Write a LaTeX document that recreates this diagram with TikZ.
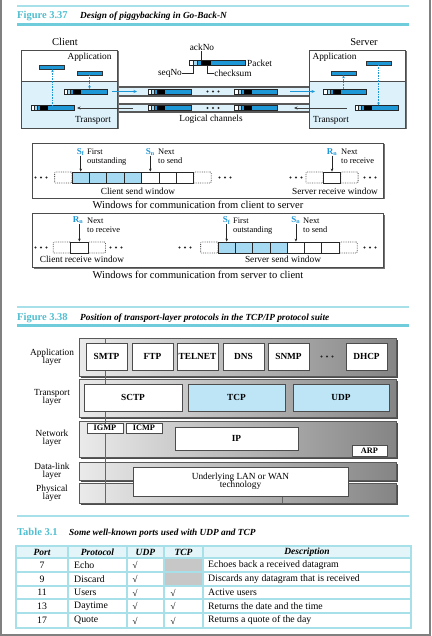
\documentclass[tikz,border=0pt]{standalone}
\usepackage{fontspec}
\setmainfont{Liberation Serif}
\usetikzlibrary{calc,arrows.meta}
\definecolor{tealA}{HTML}{6FCCDA}
\definecolor{tealB}{HTML}{A8E0E9}
\definecolor{tealT}{HTML}{4FBFD0}
\definecolor{pblue}{HTML}{1E97D6}
\definecolor{lblue}{HTML}{DDF1FB}
\definecolor{cblue}{HTML}{A6D9F2}
\definecolor{tblue}{HTML}{BDE5F6}
\definecolor{hdr}{HTML}{E3F5F8}
\newcommand\fsz[1]{\fontsize{#1}{#1}\selectfont}
\newcommand\threedots[2]{\foreach \k in {-1,0,1} \fill[black!85] ({#1+\k*5.5},#2) circle (1.1);}
\newcommand\layerband[4]{%
  \fill[black!70] (#1+1.5,#2+1.5) rectangle (#3+1.5,#4+1.5);
  \shade[left color=black!8, middle color=black!16, right color=black!48] (#1,#2) rectangle (#3,#4);
  \draw[black!65, line width=0.8] (#1,#2) rectangle (#3,#4);}
\begin{document}
\begin{tikzpicture}[x=1pt,y=-1pt,
  lbl/.style={inner sep=0, font=\fsz{9.3}},
  big/.style={inner sep=0, font=\fsz{10.5}},
  figt/.style={inner sep=0, text=tealT, font=\fsz{10.5}\bfseries},
  figd/.style={inner sep=0, font=\fsz{9.3}\bfseries\itshape},
  pkt/.style={draw=black!85, line width=0.45, fill=pblue, minimum width=#1, minimum height=5, inner sep=0, outer sep=0,
    path picture={
      \coordinate (pA) at (path picture bounding box.south west);
      \coordinate (pB) at (path picture bounding box.north east);
      \fill[white] (pA) rectangle ($(pA|-pB)!0.08!(pB)$);
      \fill[cblue] ($(pA)!0.08!(pA-|pB)$) rectangle ($(pA|-pB)!0.15!(pB)$);
      \fill[black] ($(pA)!0.22!(pA-|pB)$) rectangle ($(pA|-pB)!0.40!(pB)$);
      \draw[black!85, line width=0.35] ($(pA)!0.08!(pA-|pB)$) -- ($(pA|-pB)!0.08!(pB)$)
        ($(pA)!0.15!(pA-|pB)$) -- ($(pA|-pB)!0.15!(pB)$);
    }},
  pkt/.default=43,
  abar/.style={draw=black!80, fill=pblue, minimum width=25, minimum height=4, inner sep=0, line width=0.45},
  dotarr/.style={pblue, densely dotted, line width=0.6, -{Stealth[length=3,width=2.6]}},
  barr/.style={pblue, line width=0.8, -{Stealth[length=3.5,width=3]}},
  darr/.style={black!75, line width=0.8, -{Stealth[length=3.5,width=3]}},
  warr/.style={black!85, line width=0.6, -{Stealth[length=3,width=2.6]}},
  cell/.style={draw=black!85, line width=0.8, minimum width=17.4, minimum height=11, inner sep=0},
  dcell/.style={draw=black!65, densely dotted, line width=0.8, minimum width=17.4, minimum height=11, inner sep=0, rounded corners=1},
  slab/.style={inner sep=0, text=pblue, font=\fsz{9}\bfseries},
  wtxt/.style={inner sep=0, font=\fsz{8.4}, anchor=base west},
  pbox/.style={draw=black!70, line width=0.9, fill=white, inner sep=0, font=\fsz{9.3}\bfseries},
  tbl/.style={inner sep=0, font=\fsz{9.8}},
  thd/.style={inner sep=0, font=\fsz{9.5}\bfseries\itshape},
  chk/.style={inner sep=0, font=\fsz{9}}
]
\useasboundingbox (0,0) rectangle (431,636);
\fill[white] (0,0) rectangle (431,636);
\draw[black!50, line width=2] (1,0) -- (1,634.5) -- (430,634.5) -- (430,0);

% ===== Figure 3.37 =====
\draw[tealB, line width=1.5] (17,6) -- (409,6);
\draw[tealA, line width=3] (17,25) -- (409,25);
\node[figt, anchor=base west] (f1) at (17,19) {Figure 3.37};
\node[figd, anchor=base west] (f1d) at (80,19) {Design of piggybacking in Go-Back-N};

% client box
\fill[black!55] (22.5,51.5) rectangle (118.5,129.5);
\fill[white] (21,50) rectangle (117,81);
\fill[lblue] (21,81) rectangle (117,128);
\draw[black!70, line width=0.8] (21,50) rectangle (117,128) (21,81) -- (117,81);
% server box
\fill[black!55] (310.5,51.5) rectangle (406.5,129.5);
\fill[white] (309,50) rectangle (405,81);
\fill[lblue] (309,81) rectangle (405,128);
\draw[black!70, line width=0.8] (309,50) rectangle (405,128) (309,81) -- (405,81);

% channels
\fill[lblue] (118.5,87) rectangle (309,96);
\draw[black!65, line width=1.1] (118.5,87) -- (309,87) (118.5,96) -- (309,96);
\fill[lblue] (118.5,104) rectangle (309,112);
\draw[black!65, line width=1.1] (118.5,104) -- (309,104) (118.5,112) -- (309,112);

\node[big] (client) at (65,42) {Client};
\node[big] (server) at (364,42) {Server};
\node[lbl] (capp) at (89.5,57) {Application};
\node[lbl] (ctr) at (93,120) {Transport};
\node[lbl] (sapp) at (334.5,57) {Application};
\node[lbl] (str) at (331,120) {Transport};
\node[lbl] (logch) at (211,119) {Logical channels};

% legend packet
\node[pkt=56] (lp) at (217,63) {};
\node[lbl, anchor=west] (lpl) at (247,63) {Packet};
\node[lbl] (ack) at (202,47) {ackNo};
\node[lbl] (seq) at (170,73.5) {seqNo};
\node[lbl] (chs) at (233,73.5) {checksum};
\coordinate (ackb) at (201,51.5);
\coordinate (seqc) at (193,73.5);
\coordinate (chsc) at (207,73.5);
\draw[black!85, line width=0.6] (ackb) -- (ackb |- lp.north);
\draw[black!85, line width=0.6] (seqc |- lp.south) -- (seqc) -- (seq.east);
\draw[black!85, line width=0.6] (chsc |- lp.south) -- (chsc) -- (chs.west);

% client packets and app bars
\node[abar] (cab1) at (52,67) {};
\node[abar] (cab2) at (89.5,73) {};
\node[pkt] (cpk1) at (85.5,91.5) {};
\node[pkt] (cpk2) at (52.5,108) {};
% server
\node[abar] (sab1) at (378.5,63) {};
\node[abar] (sab2) at (343.5,73) {};
\node[pkt] (spk1) at (345,91.5) {};
\node[pkt] (spk2) at (376.5,108) {};
% channel packets
\node[pkt] (u1) at (169.5,91.5) {};
\node[pkt] (u2) at (256,91.5) {};
\node[pkt] (l1) at (169.5,108) {};
\node[pkt] (l2) at (256,108) {};
\threedots{213}{91.5}
\threedots{213}{108}

\draw[dotarr] (cab2.south) -- (cab2.south |- cpk1.north);
\draw[dotarr] (cpk2.north) -- (cpk2.north |- cab1.south);
\draw[dotarr] (spk1.north -| sab2.south) -- (sab2.south);
\draw[dotarr] (sab1.south) -- (sab1.south |- spk2.north);

\coordinate (ba1s) at (112,91.5); \coordinate (ba1e) at (137,91.5);
\coordinate (ba2s) at (290,91.5); \coordinate (ba2e) at (315,91.5);
\coordinate (da1s) at (133,108); \coordinate (da2s) at (347,108); \coordinate (da2e) at (294,108);
\draw[barr] (ba1s) -- (ba1e);
\draw[barr] (ba2s) -- (ba2e);
\draw[darr] (da1s) -- ([xshift=3]cpk2.east);
\draw[darr] (da2s) -- (da2e);

% ===== windows box 1 =====
\fill[black!55] (33.5,144.5) rectangle (384.5,199.5);
\fill[white] (32,143) rectangle (383,198);
\draw[black!70, line width=0.8] (32,143) rectangle (383,198);
\node[big] (cap1) at (198,204.5) {Windows for communication from client to server};

\threedots{41}{177.5}
\node[dcell] (a0) at (63.3,177.5) {};
\node[dcell] (a8) at (202.5,177.5) {};
\foreach \i in {1,...,4} \node[cell, fill=cblue] (a\i) at ({80.7+17.4*(\i-1)},177.5) {};
\foreach \i in {5,6,7} \node[cell, fill=white] (a\i) at ({80.7+17.4*(\i-1)},177.5) {};
\threedots{225}{177.5}
\node[slab] (sf1) at (80.7,152) {S\textsubscript{f}};
\node[wtxt] (sf1a) at (87,155) {First};
\node[wtxt] (sf1b) at (87,163.5) {outstanding};
\draw[warr] (a1.north |- sf1.south) -- (a1.north);
\node[slab] (sn1) at (150.3,152) {S\textsubscript{n}};
\node[wtxt] (sn1a) at (158,155) {Next};
\node[wtxt] (sn1b) at (158,163.5) {to send};
\draw[warr] (a5.north |- sn1.south) -- (a5.north);
\node[lbl] (csw) at (138,191) {Client send window};

\threedots{296}{177.5}
\node[dcell] (r0) at (314.6,177.5) {};
\node[dcell] (r2) at (349.4,177.5) {};
\node[cell, fill=white] (r1) at (332,177.5) {};
\threedots{370}{177.5}
\node[slab] (rn1) at (332,152) {R\textsubscript{n}};
\node[wtxt] (rn1a) at (341,155) {Next};
\node[wtxt] (rn1b) at (341,163.5) {to receive};
\draw[warr] (r1.north |- rn1.south) -- (r1.north);
\node[lbl] (srw) at (335,191) {Server receive window};

% ===== windows box 2 =====
\fill[black!55] (33.5,214.5) rectangle (384.5,268.5);
\fill[white] (32,213) rectangle (383,267);
\draw[black!70, line width=0.8] (32,213) rectangle (383,267);
\node[big] (cap2) at (198,274.5) {Windows for communication from server to client};

\threedots{41}{247.5}
\node[dcell] (q0) at (62,247.5) {};
\node[dcell] (q2) at (96.8,247.5) {};
\node[cell, fill=white] (q1) at (79.4,247.5) {};
\threedots{116}{247.5}
\node[slab] (rn2) at (78,220.5) {R\textsubscript{n}};
\node[wtxt] (rn2a) at (87,223.5) {Next};
\node[wtxt] (rn2b) at (87,232) {to receive};
\draw[warr] (q1.north |- rn2.south) -- (q1.north);
\node[lbl] (crw) at (82,259) {Client receive window};

\threedots{185}{247.5}
\node[dcell] (b0) at (209.3,247.5) {};
\node[dcell] (b8) at (348.5,247.5) {};
\foreach \i in {1,...,4} \node[cell, fill=cblue] (b\i) at ({226.7+17.3*(\i-1)},247.5) {};
\foreach \i in {5,6,7} \node[cell, fill=white] (b\i) at ({226.7+17.3*(\i-1)},247.5) {};
\threedots{370}{247.5}
\node[slab] (sf2) at (226.7,220.5) {S\textsubscript{f}};
\node[wtxt] (sf2a) at (233,223.5) {First};
\node[wtxt] (sf2b) at (233,232) {outstanding};
\draw[warr] (b1.north |- sf2.south) -- (b1.north);
\node[slab] (sn2) at (295.9,220.5) {S\textsubscript{n}};
\node[wtxt] (sn2a) at (303,223.5) {Next};
\node[wtxt] (sn2b) at (303,232) {to send};
\draw[warr] (b5.north |- sn2.south) -- (b5.north);
\node[lbl] (ssw) at (283,259) {Server send window};

% ===== Figure 3.38 =====
\draw[tealB, line width=1.5] (17,307) -- (409,307);
\draw[tealA, line width=3] (17,325) -- (409,325);
\node[figt, anchor=base west] (f2) at (17,320.5) {Figure 3.38};
\node[figd, anchor=base west] (f2d) at (80,320.5) {Position of transport-layer protocols in the TCP/IP protocol suite};

\layerband{79}{338}{396}{376}
\layerband{79}{379}{396}{417}
\layerband{79}{421}{396}{457}
\layerband{79}{462}{396}{480}
\layerband{79}{483}{396}{503}
\draw[black!60, line width=0.6] (105,338) -- (105,503);
\draw[black!60, line width=0.6] (282,496) -- (282,503);

\node[lbl, align=center] (la) at (52,357) {Application\\[-1pt]layer};
\node[lbl, align=center] (lt) at (52,397.5) {Transport\\[-1pt]layer};
\node[lbl, align=center] (ln) at (52,438.5) {Network\\[-1pt]layer};
\node[lbl, align=center] (ld) at (52,471) {Data-link\\[-1pt]layer};
\node[lbl, align=center] (lph) at (52,493) {Physical\\[-1pt]layer};

\node[pbox, minimum width=41, minimum height=27] (smtp) at (106.5,356.5) {SMTP};
\node[pbox, minimum width=41, minimum height=27] (ftp) at (152.5,356.5) {FTP};
\node[pbox, minimum width=41, minimum height=27] (telnet) at (197.5,356.5) {TELNET};
\node[pbox, minimum width=41, minimum height=27] (dns) at (243.5,356.5) {DNS};
\node[pbox, minimum width=41, minimum height=27] (snmp) at (288.5,356.5) {SNMP};
\threedots{327}{356.5}
\node[pbox, minimum width=41, minimum height=27] (dhcp) at (366.5,356.5) {DHCP};

\node[pbox, minimum width=98, minimum height=27] (sctp) at (133,397.5) {SCTP};
\node[pbox, minimum width=97, minimum height=27, fill=tblue] (tcp) at (236.5,397.5) {TCP};
\node[pbox, minimum width=96, minimum height=27, fill=tblue] (udp) at (341,397.5) {UDP};

\node[pbox, minimum width=36, minimum height=10, font=\fsz{8.3}\bfseries] (igmp) at (105,428) {IGMP};
\node[pbox, minimum width=36, minimum height=10, font=\fsz{8.3}\bfseries] (icmp) at (144,428) {ICMP};
\node[pbox, minimum width=123, minimum height=23] (ip) at (236.5,438.5) {IP};
\node[pbox, minimum width=35, minimum height=11, font=\fsz{8.3}\bfseries] (arp) at (369.5,450.5) {ARP};
\node[pbox, minimum width=215, minimum height=29, align=center, font=\fsz{9.3}] (lan) at (240.5,481.5) {Underlying LAN or WAN\\[-1pt]technology};

% ===== Table 3.1 =====
\draw[tealB, line width=1.5] (17,516) -- (409,516);
\node[figt, anchor=base west] (t3) at (17,535) {Table 3.1};
\node[figd, anchor=base west] (t3d) at (69,535) {Some well-known ports used with UDP and TCP};

\fill[hdr] (16,546) rectangle (411,558);
\fill[black!22] (164,558) rectangle (203,586);
\draw[tealB, line width=1.2] (16,546) rectangle (411,628);
\foreach \yy in {558,572,586,599,613} \draw[tealB, line width=1.2] (16,\yy) -- (411,\yy);
\foreach \xx in {68,127,164,203} \draw[tealB, line width=1.2] (\xx,546) -- (\xx,628);

\node[thd] (h1) at (42,552) {Port};
\node[thd] (h2) at (97.5,552) {Protocol};
\node[thd] (h3) at (145.5,552) {UDP};
\node[thd] (h4) at (183.5,552) {TCP};
\node[thd] (h5) at (307,552) {Description};

\node[tbl] (p1) at (42,565) {7};
\node[tbl, anchor=west] (n1) at (74,565) {Echo};
\node[chk] (u1c) at (135,565) {√};
\node[tbl, anchor=west] (d1) at (208,565) {Echoes back a received datagram};

\node[tbl] (p2) at (42,579) {9};
\node[tbl, anchor=west] (n2) at (74,579) {Discard};
\node[chk] (u2c) at (135,579) {√};
\node[tbl, anchor=west] (d2) at (208,579) {Discards any datagram that is received};

\node[tbl] (p3) at (42,592.5) {11};
\node[tbl, anchor=west] (n3) at (74,592.5) {Users};
\node[chk] (u3c) at (135,592.5) {√};
\node[chk] (t3c) at (173,592.5) {√};
\node[tbl, anchor=west] (d3) at (208,592.5) {Active users};

\node[tbl] (p4) at (42,606) {13};
\node[tbl, anchor=west] (n4) at (74,606) {Daytime};
\node[chk] (u4c) at (135,606) {√};
\node[chk] (t4c) at (173,606) {√};
\node[tbl, anchor=west] (d4) at (208,606) {Returns the date and the time};

\node[tbl] (p5) at (42,620.5) {17};
\node[tbl, anchor=west] (n5) at (74,620.5) {Quote};
\node[chk] (u5c) at (135,620.5) {√};
\node[chk] (t5c) at (173,620.5) {√};
\node[tbl, anchor=west] (d5) at (208,620.5) {Returns a quote of the day};
\end{tikzpicture}
\end{document}
